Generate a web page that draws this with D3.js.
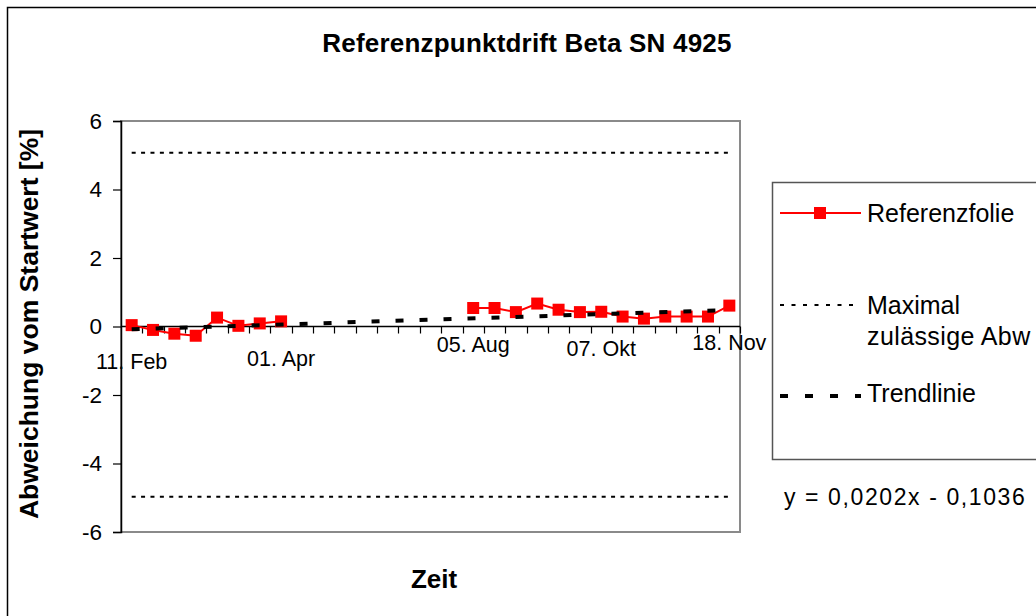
<!DOCTYPE html>
<html>
<head>
<meta charset="utf-8">
<script src="https://cdn.jsdelivr.net/npm/d3@7/dist/d3.min.js"></script>
<style>
  html, body { margin: 0; padding: 0; background: #fff; overflow: hidden; }
  svg { display: block; font-family: Arial, "Liberation Sans", sans-serif; }
</style>
</head>
<body>
<div id="chart"></div>
<script>
// category labels (only a few dates are labelled in the original)
var categories = ["11. Feb", "", "", "", "", "", "", "01. Apr", "", "", "", "", "", "", "", "",
                  "05. Aug", "", "", "", "", "", "07. Okt", "", "", "", "", "", "18. Nov"];
// measured deviation, null = no measurement
var referenzfolie = [0.04, -0.10, -0.21, -0.27, 0.26, 0.02, 0.09, 0.15,
                     null, null, null, null, null, null, null, null,
                     0.54, 0.54, 0.42, 0.67, 0.49, 0.42, 0.43, 0.29, 0.23, 0.29, 0.29, 0.29, 0.61];
var maxUpper = 5.07;
var maxLower = -4.97;
var trendSlope = 0.0202;
var trendIntercept = -0.1036;
var yTicks = [-6, -4, -2, 0, 2, 4, 6];
// legend text as far as it is visible in the original
var seriesNames = ["Referenzfolie", "Maximal", "zulässige Abw", "Trendlinie"];

var width = 1036, height = 616;
var plot = {left: 121, right: 740, top: 121, bottom: 532};

var svg = d3.select("#chart").append("svg")
    .attr("width", width)
    .attr("height", height);

svg.append("rect").attr("width", width).attr("height", height).attr("fill", "#fff");
// outer chart frame (runs off the right / bottom edge)
svg.append("rect")
    .attr("x", 7.5).attr("y", 7.5)
    .attr("width", width + 20).attr("height", height + 20)
    .attr("fill", "none").attr("stroke", "#000").attr("stroke-width", 1.5);

var x = d3.scaleBand()
    .domain(d3.range(categories.length))
    .range([plot.left, plot.right])
    .padding(0);
var cx = function(i) { return x(i) + x.bandwidth() / 2; };

var y = d3.scaleLinear()
    .domain([-6, 6])
    .range([plot.bottom, plot.top]);

// plot area border (grey)
svg.append("rect")
    .attr("x", plot.left).attr("y", plot.top)
    .attr("width", plot.right - plot.left).attr("height", plot.bottom - plot.top)
    .attr("fill", "none").attr("stroke", "#8a8a8a").attr("stroke-width", 2);

// title
svg.append("text")
    .attr("x", 527).attr("y", 52)
    .attr("text-anchor", "middle")
    .style("font-size", "26px").style("font-weight", "bold")
    .style("letter-spacing", "0.2px")
    .text("Referenzpunktdrift Beta SN 4925");

// y axis
var yAxis = d3.axisLeft(y).tickValues(yTicks).tickSize(8).tickPadding(11)
    .tickFormat(function(d) { return String(d); });
var gy = svg.append("g")
    .attr("transform", "translate(" + plot.left + ",0)")
    .call(yAxis);
gy.select(".domain").attr("stroke", "#000").attr("stroke-width", 1.5);
gy.selectAll(".tick line").attr("stroke", "#000").attr("stroke-width", 1.2);
gy.selectAll(".tick text")
    .style("font-size", "22.5px").style("font-family", "Arial, 'Liberation Sans', sans-serif")
    .attr("fill", "#000");

svg.append("text")
    .attr("transform", "translate(38," + 324 + ") rotate(-90)")
    .attr("text-anchor", "middle")
    .style("font-size", "26.5px").style("font-weight", "bold")
    .text("Abweichung vom Startwert [%]");

// x axis at zero, ticks on category boundaries
var gx = svg.append("g").attr("class", "xaxis");
gx.append("line")
    .attr("x1", plot.left).attr("x2", plot.right)
    .attr("y1", y(0)).attr("y2", y(0))
    .attr("stroke", "#000").attr("stroke-width", 1.5);
gx.selectAll("line.tick")
    .data(d3.range(1, categories.length + 1))
    .join("line")
    .attr("class", "tick")
    .attr("x1", function(i) { return Math.round(plot.left + i * x.bandwidth()) + 0.5; })
    .attr("x2", function(i) { return Math.round(plot.left + i * x.bandwidth()) + 0.5; })
    .attr("y1", y(0)).attr("y2", y(0) + 7)
    .attr("stroke", "#000").attr("stroke-width", 1.2);

// labels sit at different heights in the original
var labelBaseline = {"11. Feb": 369, "01. Apr": 366, "05. Aug": 352, "07. Okt": 356, "18. Nov": 350};
gx.selectAll("text")
    .data(categories.map(function(c, i) { return {c: c, i: i}; }).filter(function(d) { return d.c !== ""; }))
    .join("text")
    .attr("x", function(d) { return cx(d.i); })
    .attr("y", function(d) { return labelBaseline[d.c]; })
    .attr("text-anchor", "middle")
    .style("font-size", "21.5px")
    .text(function(d) { return d.c; });

svg.append("text")
    .attr("x", 434).attr("y", 588)
    .attr("text-anchor", "middle")
    .style("font-size", "26px").style("font-weight", "bold")
    .text("Zeit");

// max allowed deviation lines
[maxUpper, maxLower].forEach(function(v) {
    svg.append("path")
        .attr("d", d3.line()([[cx(0), y(v)], [cx(categories.length - 1), y(v)]]))
        .attr("stroke", "#000").attr("stroke-width", 2)
        .attr("stroke-dasharray", "4,5.4")
        .attr("fill", "none");
});

// measured series
var line = d3.line()
    .defined(function(d) { return d !== null; })
    .x(function(d, i) { return cx(i); })
    .y(function(d) { return y(d); });

svg.append("path")
    .datum(referenzfolie)
    .attr("d", line)
    .attr("stroke", "#ff0000").attr("stroke-width", 2)
    .attr("fill", "none");

svg.selectAll("rect.marker")
    .data(referenzfolie.map(function(v, i) { return {v: v, i: i}; }).filter(function(d) { return d.v !== null; }))
    .join("rect")
    .attr("class", "marker")
    .attr("x", function(d) { return cx(d.i) - 6; })
    .attr("y", function(d) { return y(d.v) - 6; })
    .attr("width", 12).attr("height", 12)
    .attr("fill", "#ff0000");

// trend line (x = 1 .. n as in the spreadsheet)
var n = categories.length;
svg.append("path")
    .attr("d", d3.line()([
        [cx(0), y(trendSlope * 1 + trendIntercept)],
        [cx(n - 1), y(trendSlope * n + trendIntercept)]
    ]))
    .attr("stroke", "#000").attr("stroke-width", 4)
    .attr("stroke-dasharray", "8,16")
    .attr("fill", "none");

// legend
var lg = svg.append("g");
lg.append("rect")
    .attr("x", 772.5).attr("y", 182.5)
    .attr("width", 300).attr("height", 277)
    .attr("fill", "#fff").attr("stroke", "#555").attr("stroke-width", 1.5);
lg.append("line").attr("x1", 780).attr("x2", 861).attr("y1", 213).attr("y2", 213)
    .attr("stroke", "#ff0000").attr("stroke-width", 2);
lg.append("rect").attr("x", 814).attr("y", 207).attr("width", 12).attr("height", 12)
    .attr("fill", "#ff0000");
lg.append("line").attr("x1", 780).attr("x2", 858).attr("y1", 305).attr("y2", 305)
    .attr("stroke", "#000").attr("stroke-width", 2).attr("stroke-dasharray", "4,7.5");
lg.append("line").attr("x1", 780).attr("x2", 861).attr("y1", 396).attr("y2", 396)
    .attr("stroke", "#000").attr("stroke-width", 4).attr("stroke-dasharray", "8,17");
var legendBaselines = [222, 314, 345, 402];
lg.selectAll("text")
    .data(seriesNames)
    .join("text")
    .attr("x", 867)
    .attr("y", function(d, i) { return legendBaselines[i]; })
    .style("font-size", "25px")
    .style("letter-spacing", function(d, i) { return i === 2 ? "0.4px" : null; })
    .text(function(d) { return d; });

// trend equation
svg.append("text")
    .attr("x", 784).attr("y", 505)
    .style("font-size", "23px")
    .style("letter-spacing", "1.6px")
    .text("y = " + d3.format(".4f")(trendSlope).replace(".", ",") + "x - "
          + d3.format(".4f")(-trendIntercept).replace(".", ","));
</script>
</body>
</html>
